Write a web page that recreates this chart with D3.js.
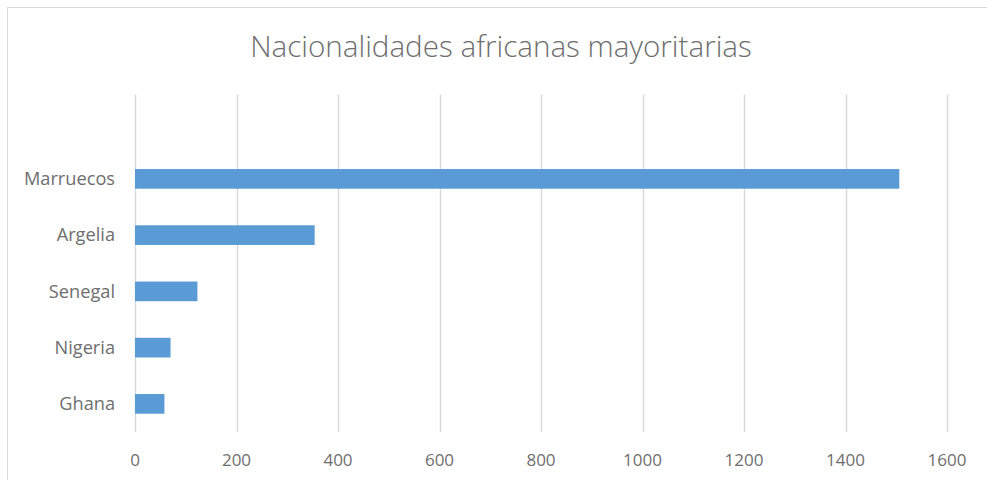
<!DOCTYPE html>
<html>
<head>
<meta charset="utf-8">
<script src="https://cdn.jsdelivr.net/npm/d3@7"></script>
<style>
  body { margin: 0; background: #fff; }
  text { font-family: "Open Sans", "Noto Sans", sans-serif; fill: #6e6e6e; }
</style>
</head>
<body>
<svg id="chart" width="987" height="480"></svg>
<script>
var categories = ["Marruecos", "Argelia", "Senegal", "Nigeria", "Ghana"];
var values = [1506, 354, 123, 70, 58];
var xTicks = [0, 200, 400, 600, 800, 1000, 1200, 1400, 1600];
var title = "Nacionalidades africanas mayoritarias";

var svg = d3.select("#chart"),
    margin = {top: 94.5, left: 135, right: 40, bottom: 48},
    width = 987 - margin.left - margin.right,
    height = 480 - margin.top - margin.bottom;

// chart frame (right/bottom edges fall outside the picture)
svg.append("rect")
    .attr("x", 7.5).attr("y", 7.5)
    .attr("width", 1000).attr("height", 500)
    .attr("fill", "none")
    .attr("stroke", "#d9d9d9");

svg.append("text")
    .attr("x", 501)
    .attr("y", 57)
    .attr("text-anchor", "middle")
    .attr("font-size", 29.6)
    .attr("font-weight", 300)
    .text(title);

var data = categories.map(function(c, i) { return {name: c, value: values[i]}; });

var x = d3.scaleLinear()
    .domain([0, 1600])
    .range([0, width]);

// Excel leaves an empty slot at the top of the category axis
var y = d3.scaleBand()
    .domain([""].concat(categories))
    .range([0, height])
    .paddingInner(0.65)
    .paddingOuter(0.325);

var g = svg.append("g").attr("transform", "translate(" + margin.left + "," + margin.top + ")");

g.append("g")
  .selectAll("line")
  .data(xTicks)
  .enter().append("line")
    .attr("x1", function(d) { return Math.round(x(d)) + 0.5; })
    .attr("x2", function(d) { return Math.round(x(d)) + 0.5; })
    .attr("y1", 0)
    .attr("y2", height)
    .attr("stroke", "#d9d9d9")
    .attr("stroke-width", 1.5);

g.append("g")
  .selectAll("rect")
  .data(data)
  .enter().append("rect")
    .attr("x", x(0))
    .attr("y", function(d) { return y(d.name); })
    .attr("width", function(d) { return x(d.value) - x(0); })
    .attr("height", y.bandwidth())
    .attr("fill", "#5b9bd5");

g.append("g")
  .selectAll("text")
  .data(categories)
  .enter().append("text")
    .attr("x", -20)
    .attr("y", function(d) { return y(d) + y.bandwidth() / 2; })
    .attr("dy", "0.35em")
    .attr("text-anchor", "end")
    .attr("font-size", 18.2)
    .text(function(d) { return d; });

g.append("g")
  .selectAll("text")
  .data(xTicks)
  .enter().append("text")
    .attr("x", function(d) { return x(d); })
    .attr("y", height + 28)
    .attr("dy", "0.35em")
    .attr("text-anchor", "middle")
    .attr("font-size", 17)
    .text(function(d) { return d; });
</script>
</body>
</html>
